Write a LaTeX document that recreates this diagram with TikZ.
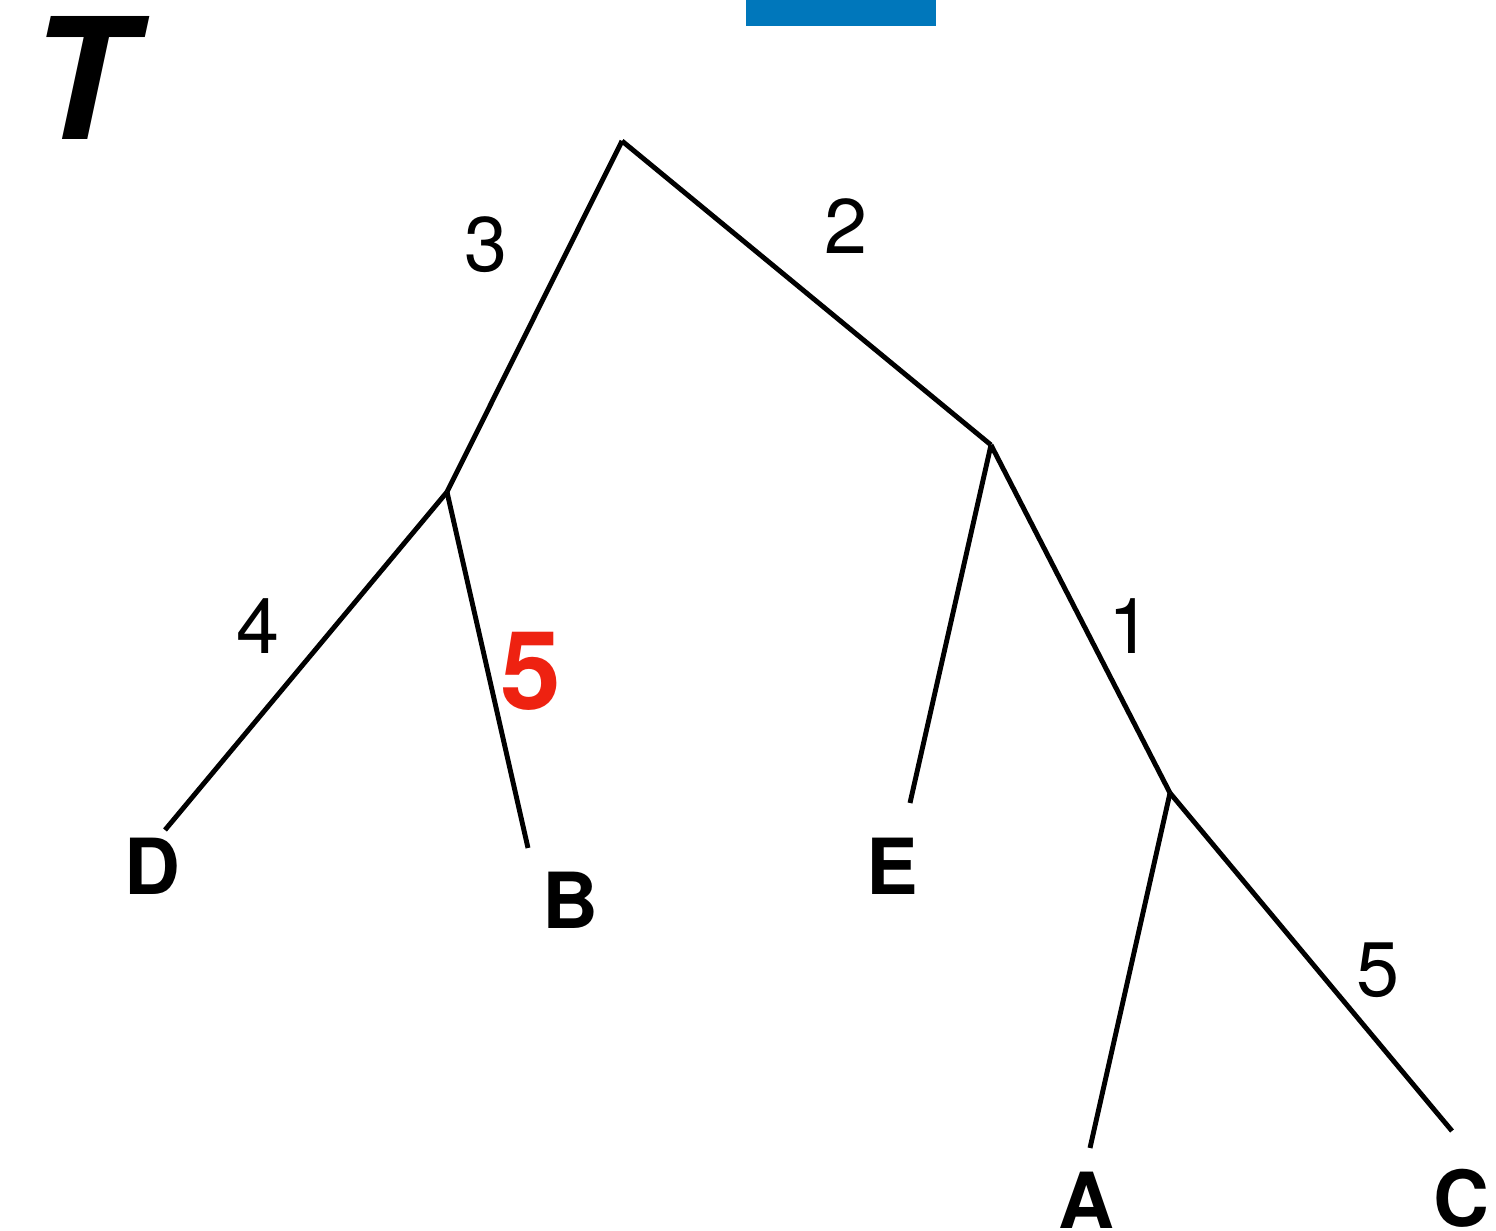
\documentclass[tikz,border=0pt]{standalone}
\usepackage{fontspec}
\setmainfont{TeX Gyre Heros}
\usetikzlibrary{positioning}
\definecolor{ink}{gray}{0}
\definecolor{hilite}{RGB}{238,34,17}
\definecolor{barblue}{RGB}{0,119,187}
\begin{document}
\begin{tikzpicture}[
  x=0.01cm, y=-0.01cm,
  edge/.style={draw=ink, line width=1.4pt},
  weight/.style={font=\fontsize{22}{22}\selectfont, text=ink, inner sep=0pt},
  leaf/.style={font=\fontsize{22}{22}\selectfont\bfseries, text=ink, inner sep=0pt},
]
\useasboundingbox (0,0) rectangle (1496,1231);
\fill[barblue] (746,0) rectangle (936,26);
\node[font=\fontsize{48}{48}\selectfont\bfseries\itshape, inner sep=0pt]
  (title) at (81,78) {T};

% inner vertices and leaf tips
\coordinate (root) at (622,141);
\coordinate (u) at (447,492);
\coordinate (v) at (991,445);
\coordinate (w) at (1170,793);
\coordinate (tD) at (165,830);
\coordinate (tB) at (528,848);
\coordinate (tE) at (910,803);
\coordinate (tA) at (1090,1148);
\coordinate (tC) at (1452,1131);

\draw[edge] (root) -- (u);
\draw[edge] (root) -- (v);
\draw[edge] (u) -- (tD);
\draw[edge] (u) -- (tB);
\draw[edge] (v) -- (tE);
\draw[edge] (v) -- (w);
\draw[edge] (w) -- (tA);
\draw[edge] (w) -- (tC);

% leaves
\node[leaf] (D) at (152,866) {D};
\node[leaf] (B) at (570,900) {B};
\node[leaf] (E) at (892,866) {E};
\node[leaf] (A) at (1086,1200) {A};
\node[leaf] (C) at (1461,1198) {C};

% branch weights
\node[weight] (w3) at (486,245) {3};
\node[weight] (w2) at (846,226) {2};
\node[weight] (w4) at (258,626) {4};
\node[weight] (w1) at (1130,626) {1};
\node[weight] (w5) at (1378,970) {5};
\node[font=\fontsize{31}{31}\selectfont\bfseries, text=hilite, inner sep=0pt]
  (w5b) at (531,671) {5};
\end{tikzpicture}
\end{document}
